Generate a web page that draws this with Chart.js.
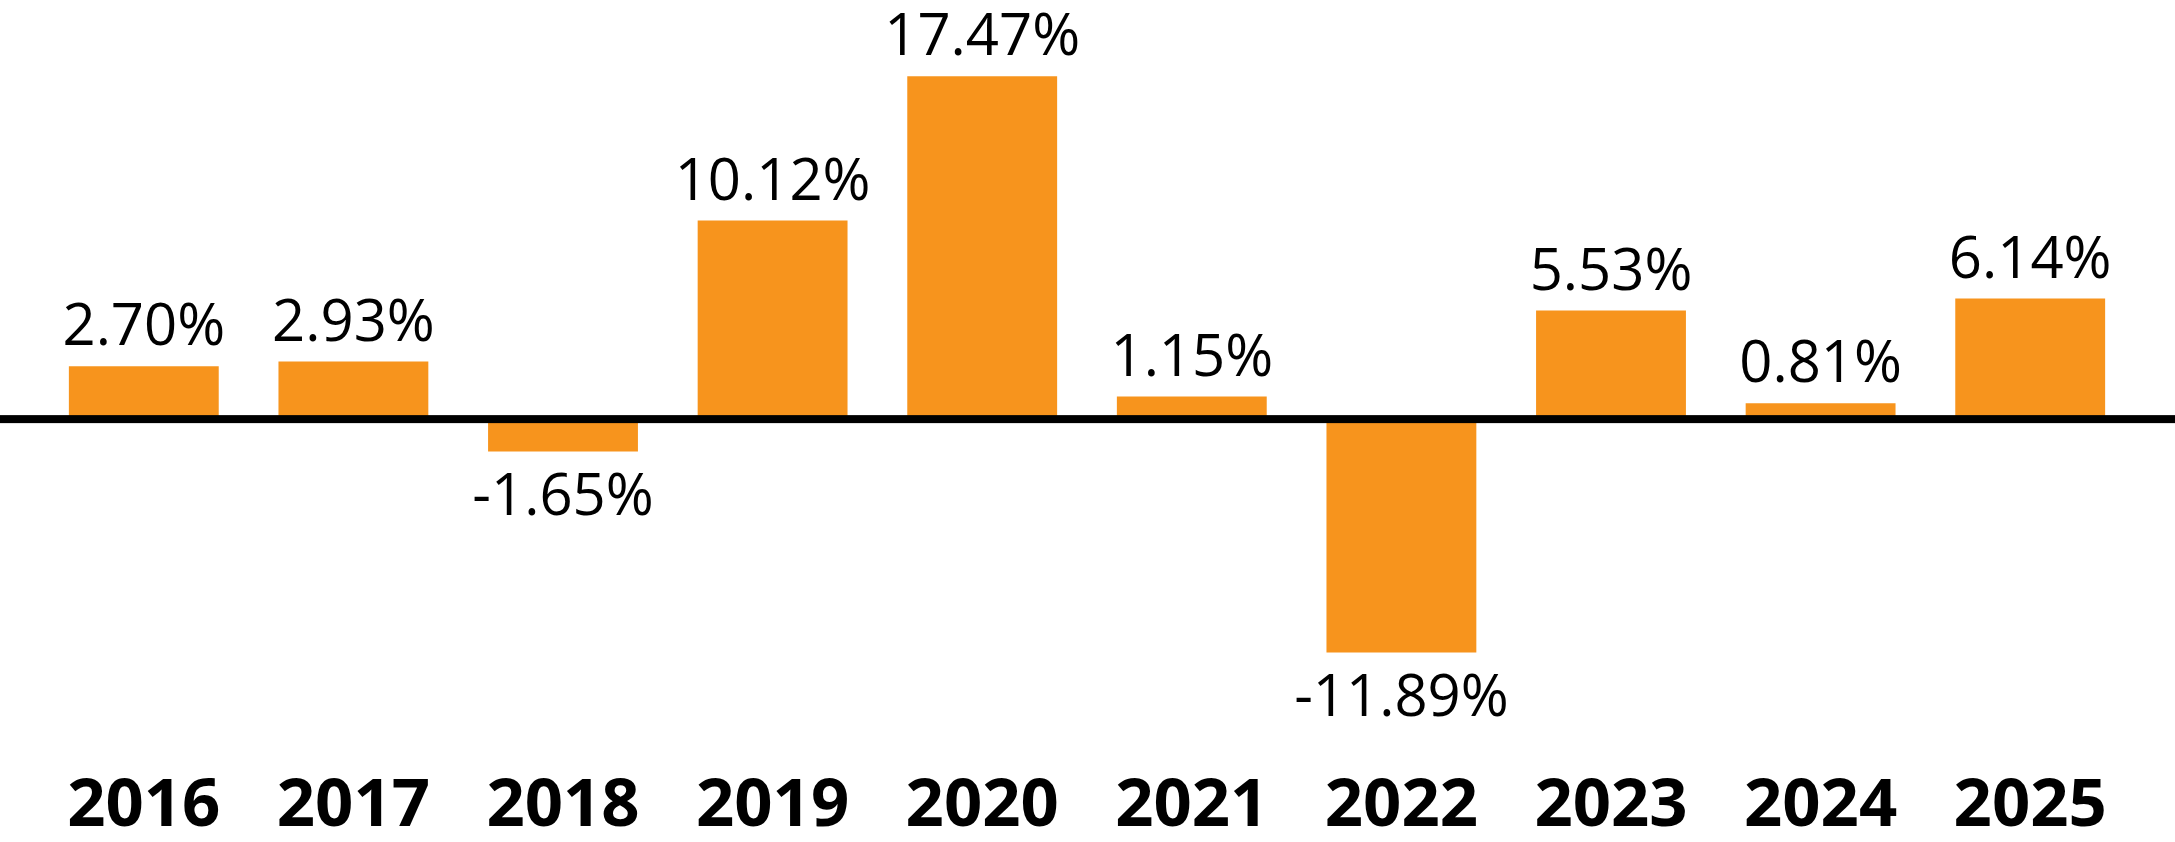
<!DOCTYPE html>
<html>
<head>
<meta charset="utf-8">
<script src="https://cdn.jsdelivr.net/npm/chart.js@4"></script>
<style>
  html, body { margin: 0; padding: 0; background: #fff; overflow: hidden; }
  canvas { display: block; }
</style>
</head>
<body>
<canvas id="myChart" width="2175" height="842"></canvas>
<script>
// annual returns
var years = ["2016", "2017", "2018", "2019", "2020", "2021", "2022", "2023", "2024", "2025"];
var returns = [2.70, 2.93, -1.65, 10.12, 17.47, 1.15, -11.89, 5.53, 0.81, 6.14];
var barColor = "#F7941D";

// value labels + zero line
var labelPlugin = {
  id: "valueLabels",
  afterDatasetsDraw: function (chart) {
    var ctx = chart.ctx;
    var y0 = chart.scales.y.getPixelForValue(0);
    ctx.save();
    ctx.fillStyle = "#000";
    ctx.fillRect(0, y0 - 4, chart.width, 8);
    ctx.font = "58px 'Open Sans'";
    ctx.textAlign = "center";
    ctx.textBaseline = "alphabetic";
    chart.getDatasetMeta(0).data.forEach(function (bar, i) {
      var v = returns[i];
      var txt = v.toFixed(2) + "%";
      if (v >= 0) {
        ctx.fillText(txt, bar.x, bar.y - 21);
      } else {
        ctx.fillText(txt, bar.x, bar.y + 64);
      }
    });
    ctx.restore();
  }
};

new Chart("myChart", {
  type: "bar",
  data: {
    labels: years,
    datasets: [{
      data: returns,
      backgroundColor: barColor,
      barPercentage: 0.715,
      categoryPercentage: 1
    }]
  },
  options: {
    responsive: false,
    devicePixelRatio: 1,
    animation: false,
    layout: { padding: { left: 39, right: 40, top: 7, bottom: 0 } },
    plugins: { legend: { display: false }, tooltip: { enabled: false } },
    scales: {
      x: {
        grid: { display: false, drawTicks: false },
        border: { display: false },
        ticks: {
          color: "#000",
          padding: 0,
          font: { family: "'Open Sans'", size: 67, weight: "bold", lineHeight: 1.054 }
        }
      },
      y: {
        display: false,
        min: -17.95,
        max: 21
      }
    }
  },
  plugins: [labelPlugin]
});
</script>
</body>
</html>
